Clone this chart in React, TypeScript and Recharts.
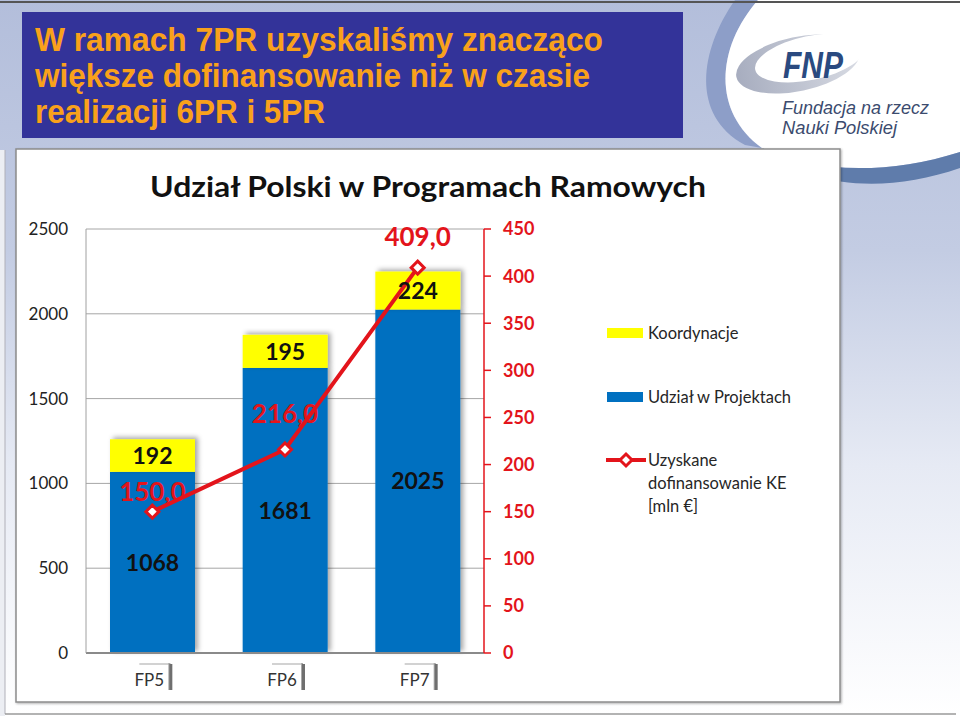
import React from 'react';
import { ComposedChart, Bar, Line, XAxis, YAxis, CartesianGrid, Legend, LabelList } from 'recharts';

const categories = ['FP5', 'FP6', 'FP7'];
const projectShare = [1068, 1681, 2025];
const coordination = [192, 195, 224];
const ecFunding = [150.0, 216.0, 409.0];
const leftTicks = [0, 500, 1000, 1500, 2000, 2500];
const rightTicks = [0, 50, 100, 150, 200, 250, 300, 350, 400, 450];
const titleLines = ['W ramach 7PR uzyskaliśmy znacząco', 'większe dofinansowanie niż w czasie', 'realizacji 6PR i 5PR'];
const chartTitle = 'Udział Polski w Programach Ramowych';
const legendLabels = { koord: 'Koordynacje', projekty: 'Udział w Projektach', ke: ['Uzyskane', 'dofinansowanie KE', '[mln €]'] };

// style-only constants
const fundingLabelLift = [11, 26, 22];
const RED = '#e3141b';
const BLUE = '#0070c0';
const YELLOW = '#ffff00';
const FONT = 'Lato, "Open Sans", sans-serif';

const data = categories.map((c, i) => ({ name: c, projekty: projectShare[i], koord: coordination[i], ke: ecFunding[i] }));

const fmtPl = (v: number) => v.toFixed(1).replace('.', ',');

const ShadowRect = (p: any) => (
  <rect x={p.x} y={p.y} width={p.width} height={p.height} fill={p.fill} filter="url(#barShadow)" />
);

const Diamond = (p: any) => {
  const { cx, cy, index } = p;
  if (cx == null || cy == null) return null;
  const r = 6.5;
  return (
    <path key={`dm-${index}`} d={`M ${cx} ${cy - r} L ${cx + r} ${cy} L ${cx} ${cy + r} L ${cx - r} ${cy} Z`} fill="#fff" stroke={RED} strokeWidth={3} />
  );
};

const fundingLabel = (p: any) => {
  const x = p.x ?? p.viewBox?.x;
  const y = p.y ?? p.viewBox?.y;
  const idx = p.index ?? 0;
  if (x == null || y == null) return null;
  return (
    <text key={`fl-${idx}`} x={x} y={y - fundingLabelLift[idx]} textAnchor="middle" fill={RED} fontSize={26} fontWeight={700} fontFamily={FONT}>
      {fmtPl(Number(p.value))}
    </text>
  );
};

const XTick = (p: any) => {
  const { x, y, payload } = p;
  return (
    <g>
      <rect x={x - 13} y={y + 10} width={31} height={2} fill="#d2d2d2" />
      <rect x={x + 16} y={y + 10} width={2} height={27} fill="#a8a8a8" />
      <rect x={x + 17} y={y + 11} width={3} height={26} fill="#6f6f6f" />
      <text x={x - 3} y={y + 33} textAnchor="middle" fill="#333" fontSize={17} fontFamily={FONT}>{payload.value}</text>
    </g>
  );
};

const LegendContent = () => (
  <div style={{ position: 'relative', width: 230, height: 200, fontFamily: FONT, color: '#262626', fontSize: 16.5 }}>
    <div style={{ position: 'absolute', left: 1, top: 9, width: 36, height: 10, background: YELLOW }} />
    <div style={{ position: 'absolute', left: 42, top: 4, lineHeight: '20px', whiteSpace: 'nowrap' }}>{legendLabels.koord}</div>
    <div style={{ position: 'absolute', left: 1, top: 73, width: 36, height: 10, background: BLUE }} />
    <div style={{ position: 'absolute', left: 42, top: 68, lineHeight: '20px', whiteSpace: 'nowrap' }}>{legendLabels.projekty}</div>
    <svg style={{ position: 'absolute', left: 0, top: 131 }} width={40} height={20}>
      <line x1={0} y1={10} x2={40} y2={10} stroke={RED} strokeWidth={4} />
      <path d="M 20 4 L 26 10 L 20 16 L 14 10 Z" fill="#fff" stroke={RED} strokeWidth={3} />
    </svg>
    <div style={{ position: 'absolute', left: 42, top: 130, lineHeight: '23px', whiteSpace: 'nowrap' }}>
      {legendLabels.ke.map((t) => (<div key={t}>{t}</div>))}
    </div>
  </div>
);

export default function App() {
  return (
    <div style={{ position: 'absolute', left: 0, top: 0, width: 960, height: 716, overflow: 'hidden', background: '#fff' }}>
      <svg width={960} height={716} style={{ position: 'absolute', left: 0, top: 0 }}>
        <defs>
          <linearGradient id="bgV" x1="0" y1="0" x2="0" y2="1">
            <stop offset="0" stopColor="#b3bedb" />
            <stop offset="0.35" stopColor="#c3cce3" />
            <stop offset="0.65" stopColor="#e6eaf4" />
            <stop offset="1" stopColor="#ffffff" />
          </linearGradient>
          <linearGradient id="logoGray" x1="0" y1="0" x2="1" y2="0">
            <stop offset="0" stopColor="#a7adbf" />
            <stop offset="1" stopColor="#d9dce4" />
          </linearGradient>
          <filter id="barShadow" x="-20%" y="-20%" width="150%" height="150%">
            <feDropShadow dx="3" dy="-2" stdDeviation="2.5" floodColor="#000" floodOpacity="0.35" />
          </filter>
          <filter id="panelShadow" x="-5%" y="-5%" width="110%" height="110%">
            <feDropShadow dx="1" dy="1" stdDeviation="1" floodColor="#000" floodOpacity="0.3" />
          </filter>
        </defs>
        <rect x={0} y={0} width={960} height={716} fill="url(#bgV)" />
        <rect x={0} y={150} width={5} height={566} fill="#eceef3" />
        {/* top-right white swoosh */}
        <path d="M 735 0 C 700 50, 690 115, 745 145 L 762 148 C 712 112, 716 48, 758 0 Z" fill="#8d9ec8" />
        <path d="M 758 0 C 716 48, 712 112, 762 148 C 810 172, 885 176, 960 152 L 960 0 Z" fill="#ffffff" />
        <path d="M 762 148 C 810 172, 885 176, 960 152 L 960 168 C 885 194, 810 188, 762 148 Z" fill="#5f7cab" />
        {/* logo swoosh */}
        <ellipse cx={798} cy={64} rx={63} ry={27} fill="url(#logoGray)" transform="rotate(-12 798 64)" />
        <ellipse cx={810} cy={58} rx={56} ry={22} fill="#ffffff" transform="rotate(-12 810 58)" />
        <text x={783} y={78} fill="#2a4a80" fontSize={36} fontWeight={700} fontStyle="italic" fontFamily="'Liberation Sans', Arial, sans-serif" textLength={60} lengthAdjust="spacingAndGlyphs">FNP</text>
        <text x={782} y={114} fill="#3b4b6e" fontSize={18} fontStyle="italic" fontFamily="'Liberation Sans', Arial, sans-serif" textLength={147} lengthAdjust="spacingAndGlyphs">Fundacja na rzecz</text>
        <text x={782} y={134} fill="#3b4b6e" fontSize={18} fontStyle="italic" fontFamily="'Liberation Sans', Arial, sans-serif" textLength={115} lengthAdjust="spacingAndGlyphs">Nauki Polskiej</text>
        {/* frame lines */}
        <line x1={0} y1={2} x2={960} y2={2} stroke="#555" strokeWidth={2} />
        <line x1={5} y1={150} x2={5} y2={714} stroke="#b0b0b8" strokeWidth={1} />
        <line x1={5} y1={714} x2={956} y2={714} stroke="#9a9a9a" strokeWidth={1.5} />
        {/* title box */}
        <rect x={22} y={12} width={661} height={126} fill="#333399" />
        {titleLines.map((t, i) => (
          <text key={t} x={35} y={51 + i * 36} fill="#f9a11b" fontSize={34} fontWeight={700} fontFamily="'Liberation Sans', Arial, sans-serif" textLength={[568, 555, 290][i]} lengthAdjust="spacingAndGlyphs">{t}</text>
        ))}
        {/* chart panel */}
        <rect x={16} y={149} width={824} height={553} fill="#ffffff" stroke="#8c8c8c" strokeWidth={1.5} filter="url(#panelShadow)" />
        <text x={428} y={197} textAnchor="middle" fill="#111" fontSize={29} fontWeight={700} fontFamily={FONT} textLength={556} lengthAdjust="spacingAndGlyphs">{chartTitle}</text>
      </svg>
      <div style={{ position: 'absolute', left: 16, top: 149 }}>
        <ComposedChart width={824} height={553} data={data} margin={{ top: 80, right: 286, bottom: 9, left: 10 }} barCategoryGap="18%">
          <CartesianGrid yAxisId="left" horizontal vertical={false} stroke="#a6a6a6" strokeWidth={1} />
          <XAxis dataKey="name" axisLine={{ stroke: '#8a8a8a', strokeWidth: 2 }} tickLine={false} tickSize={0} tickMargin={0} height={40} tick={<XTick />} interval={0} />
          <YAxis yAxisId="left" orientation="left" width={60} domain={[0, 2500]} ticks={leftTicks} axisLine={{ stroke: '#a0a0a0' }} tickLine={false} tickSize={0} tickMargin={18} tick={{ fill: '#222', fontSize: 17, fontFamily: FONT }} interval={0} />
          <YAxis yAxisId="right" orientation="right" width={70} domain={[0, 450]} ticks={rightTicks} axisLine={{ stroke: RED, strokeWidth: 1.5 }} tickLine={{ stroke: RED, strokeWidth: 1.5 }} tickSize={7} tickMargin={12} tick={{ fill: RED, fontSize: 18, fontWeight: 700, fontFamily: FONT }} interval={0} />
          <Bar yAxisId="left" dataKey="projekty" name={legendLabels.projekty} stackId="a" fill={BLUE} barSize={85} shape={ShadowRect} isAnimationActive={false}>
            <LabelList dataKey="projekty" position="center" fill="#111" fontSize={23} fontWeight={700} fontFamily={FONT} />
          </Bar>
          <Bar yAxisId="left" dataKey="koord" name={legendLabels.koord} stackId="a" fill={YELLOW} barSize={85} shape={ShadowRect} isAnimationActive={false}>
            <LabelList dataKey="koord" position="center" fill="#111" fontSize={23} fontWeight={700} fontFamily={FONT} />
          </Bar>
          <Line yAxisId="right" dataKey="ke" name="Uzyskane dofinansowanie KE [mln €]" stroke={RED} strokeWidth={4} dot={Diamond} activeDot={false} label={fundingLabel} isAnimationActive={false} />
          <Legend layout="vertical" align="center" verticalAlign="middle" content={<LegendContent />} wrapperStyle={{ left: 590, top: 170, width: 230, height: 200 }} />
        </ComposedChart>
      </div>
    </div>
  );
}
